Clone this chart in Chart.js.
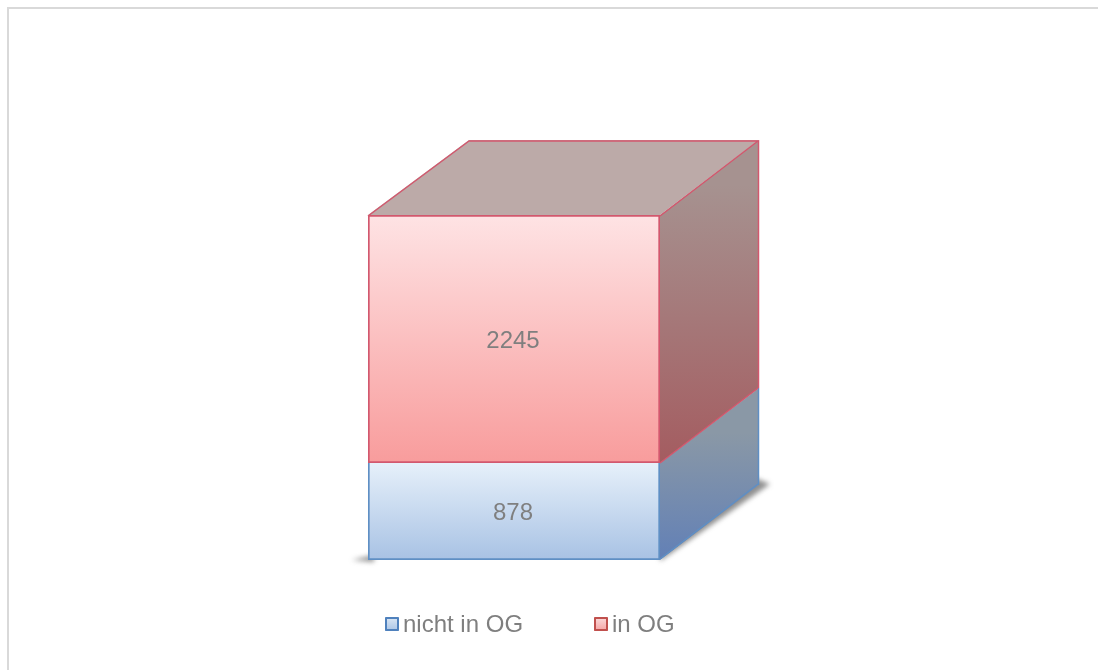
<!DOCTYPE html>
<html lang="de">
<head>
<meta charset="utf-8">
<title>OG</title>
<script src="https://cdn.jsdelivr.net/npm/chart.js@4"></script>
<style>
html,body{margin:0;padding:0;background:#fff;width:1102px;height:670px;overflow:hidden}
#frame{position:absolute;left:7px;top:7px;width:1091px;height:663px;border-top:2px solid #d9d9d9;border-left:2px solid #d9d9d9;box-sizing:border-box}
canvas{position:absolute;left:0;top:0}
</style>
</head>
<body>
<div id="frame"></div>
<canvas id="c" width="1102" height="670"></canvas>
<script>
const categories = ['OG'];
const seriesNames = ['nicht in OG', 'in OG'];
const nichtInOG = [878];
const inOG = [2245];

const FONT = '24px "Liberation Sans", Arial, sans-serif';
const TEXT = '#7f7f7f';
const DX = 99, DY = -75;

const looks = [
  { edge:'#5f8fc4', side:['#8a98a6','#6280b6'], front:['#e6f0fa','#a8c2e4'], swatchEdge:'#4f81bd', swatchFill:['#dce8f5','#a9c4e6'] },
  { edge:'#d2586e', side:['#a69290','#a45c60'], front:['#fee3e4','#f89c9c'], swatchEdge:'#c0504d', swatchFill:['#fbdcdc','#f5a3a3'] }
];

function frontFill(i){
  return function(ctx){
    const chart = ctx.chart, el = chart.getDatasetMeta(i).data[0];
    if(!chart.chartArea || !el) return looks[i].front[1];
    const y = chart.scales.y;
    const start = i === 0 ? 0 : nichtInOG[0];
    const end = start + (i === 0 ? nichtInOG[0] : inOG[0]);
    const g = chart.ctx.createLinearGradient(0, y.getPixelForValue(end), 0, y.getPixelForValue(start));
    g.addColorStop(0, looks[i].front[0]);
    g.addColorStop(1, looks[i].front[1]);
    return g;
  };
}

const cube = {
  id:'cube',
  beforeDatasetsDraw(chart){
    const c = chart.ctx;
    const bars = [chart.getDatasetMeta(0).data[0], chart.getDatasetMeta(1).data[0]];
    const L = bars[0].x - bars[0].width/2, R = bars[0].x + bars[0].width/2;
    const bottom = bars[0].base, top = bars[1].y;

    // soft floor shadow
    c.save();
    c.filter = 'blur(2.5px)';
    c.fillStyle = 'rgba(70,70,70,.6)';
    c.beginPath();
    c.moveTo(352, bottom); c.lineTo(L+6, bottom-5); c.lineTo(L+6, bottom+2); c.closePath(); c.fill();
    c.beginPath();
    c.moveTo(R, bottom+1); c.lineTo(R+DX+11, bottom+DY-1); c.lineTo(R+DX-4, bottom+DY-7); c.lineTo(R, bottom-6); c.closePath(); c.fill();
    c.restore();

    // side faces
    bars.forEach((b,i)=>{
      const g = c.createLinearGradient(0, b.y+DY*0.4, 0, b.base);
      g.addColorStop(0, looks[i].side[0]);
      g.addColorStop(1, looks[i].side[1]);
      c.fillStyle = g;
      c.beginPath();
      c.moveTo(R, b.base); c.lineTo(R+DX, b.base+DY); c.lineTo(R+DX, b.y+DY); c.lineTo(R, b.y); c.closePath();
      c.fill();
    });
    // side edges
    c.lineWidth = 1.5;
    bars.forEach((b,i)=>{
      c.strokeStyle = looks[i].edge;
      c.beginPath();
      c.moveTo(R+DX-0.5, b.base+DY); c.lineTo(R+DX-0.5, b.y+DY);
      c.stroke();
    });
    c.strokeStyle = looks[0].edge;
    c.beginPath(); c.moveTo(R, bottom-1); c.lineTo(R+DX-1, bottom+DY-1); c.stroke();
    c.strokeStyle = looks[1].edge;
    c.beginPath(); c.moveTo(R, bars[1].base); c.lineTo(R+DX-1, bars[1].base+DY); c.stroke();

    // top face
    c.fillStyle = '#bcaaa8';
    c.beginPath();
    c.moveTo(L, top); c.lineTo(L+DX+2, top+DY); c.lineTo(R+DX, top+DY); c.lineTo(R, top); c.closePath();
    c.fill();
    c.strokeStyle = looks[1].edge;
    c.lineJoin = 'round';
    c.beginPath();
    c.moveTo(L, top+1); c.lineTo(L+DX+2, top+DY+1); c.lineTo(R+DX-1, top+DY+1); c.lineTo(R, top+1);
    c.stroke();
  },
  afterDatasetsDraw(chart){
    const c = chart.ctx;
    // value labels
    c.save();
    c.font = FONT; c.fillStyle = TEXT; c.textAlign = 'center'; c.textBaseline = 'middle';
    chart.data.datasets.forEach((ds,i)=>{
      const el = chart.getDatasetMeta(i).data[0];
      c.fillText(String(ds.data[0]), el.x - 1, (el.y + el.base)/2 + 2);
    });
    // legend
    const swatchX = [385, 594];
    chart.data.datasets.forEach((ds,i)=>{
      const x = swatchX[i], y = 617, s = 14;
      const g = c.createLinearGradient(0,y,0,y+s);
      g.addColorStop(0, looks[i].swatchFill[0]);
      g.addColorStop(1, looks[i].swatchFill[1]);
      c.fillStyle = g;
      c.fillRect(x, y, s, s);
      c.strokeStyle = looks[i].swatchEdge;
      c.lineWidth = 2;
      c.strokeRect(x+1, y+1, s-2, s-2);
      c.fillStyle = TEXT; c.textAlign = 'left'; c.textBaseline = 'alphabetic';
      c.font = FONT;
      c.fillText(ds.label, x+18, 632);
    });
    c.restore();
  }
};

new Chart(document.getElementById('c'), {
  type:'bar',
  data:{
    labels:categories,
    datasets:[
      { label:seriesNames[0], data:nichtInOG, backgroundColor:frontFill(0), borderColor:looks[0].edge, borderWidth:2, borderSkipped:'top', categoryPercentage:1, barPercentage:1 },
      { label:seriesNames[1], data:inOG, backgroundColor:frontFill(1), borderColor:looks[1].edge, borderWidth:2, borderSkipped:false, categoryPercentage:1, barPercentage:1 }
    ]
  },
  options:{
    responsive:false,
    animation:false,
    events:[],
    layout:{ padding:{ left:368, right:442, top:215, bottom:110 } },
    scales:{
      x:{ stacked:true, display:false },
      y:{ stacked:true, display:false, min:0, max:nichtInOG[0]+inOG[0] }
    },
    plugins:{ legend:{ display:false }, tooltip:{ enabled:false } }
  },
  plugins:[cube]
});
</script>
</body>
</html>
